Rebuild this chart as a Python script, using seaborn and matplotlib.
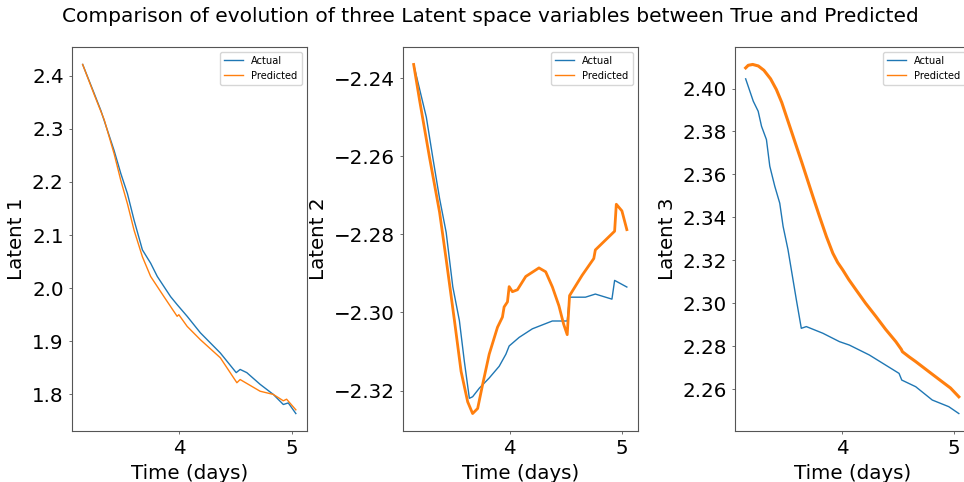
import matplotlib
matplotlib.use("Agg")
import matplotlib.pyplot as plt
import seaborn as sns
import pandas as pd

# ---- Latent 1 ----
l1_actual_t = [3.141, 3.244, 3.303, 3.420, 3.479, 3.538, 3.597, 3.671, 3.744, 3.803,
               3.921, 3.979, 4.068, 4.185, 4.362, 4.503, 4.538, 4.597, 4.715, 4.832,
               4.921, 4.965, 5.032]
l1_actual_v = [2.421, 2.366, 2.334, 2.259, 2.216, 2.178, 2.128, 2.072, 2.047, 2.022,
               1.984, 1.969, 1.947, 1.916, 1.878, 1.841, 1.847, 1.841, 1.819, 1.800,
               1.781, 1.784, 1.764]
l1_pred_t = [3.141, 3.244, 3.332, 3.420, 3.479, 3.538, 3.597, 3.671, 3.744, 3.862,
             3.979, 3.994, 4.068, 4.185, 4.362, 4.509, 4.538, 4.715, 4.832, 4.921,
             4.950, 5.032]
l1_pred_v = [2.421, 2.364, 2.317, 2.253, 2.203, 2.159, 2.109, 2.059, 2.022, 1.984,
             1.947, 1.950, 1.928, 1.903, 1.869, 1.822, 1.828, 1.806, 1.800, 1.788,
             1.791, 1.771]

# ---- Latent 2 ----
l2_actual_t = [3.142, 3.255, 3.313, 3.373, 3.432, 3.491, 3.550, 3.594, 3.639, 3.668,
               3.728, 3.816, 3.905, 3.965, 3.994, 4.083, 4.201, 4.379, 4.512, 4.533,
               4.675, 4.763, 4.911, 4.935, 5.044]
l2_actual_v = [-2.2365, -2.2500, -2.2604, -2.2708, -2.2795, -2.2934, -2.3021, -2.3125,
               -2.3220, -2.3216, -2.3194, -2.3168, -2.3138, -2.3107, -2.3086, -2.3064,
               -2.3042, -2.3022, -2.3022, -2.2961, -2.2961, -2.2953, -2.2966, -2.2918,
               -2.2935]
l2_pred_t = [3.142, 3.195, 3.284, 3.373, 3.432, 3.506, 3.565, 3.624, 3.668, 3.713,
             3.757, 3.816, 3.890, 3.934, 3.949, 3.979, 3.994, 4.023, 4.068, 4.142,
             4.260, 4.320, 4.380, 4.438, 4.480, 4.512, 4.533, 4.645, 4.749, 4.763,
             4.935, 4.950, 5.000, 5.044]
l2_pred_v = [-2.2365, -2.2457, -2.2604, -2.2743, -2.2864, -2.3021, -2.3151, -2.3229,
             -2.3259, -2.3246, -2.3185, -2.3107, -2.3038, -2.3012, -2.2986, -2.2973,
             -2.2934, -2.2947, -2.2942, -2.2908, -2.2886, -2.2896, -2.2935, -2.2983,
             -2.3030, -2.3057, -2.2957, -2.2905, -2.2862, -2.2840, -2.2792, -2.2723,
             -2.2740, -2.2788]

# ---- Latent 3 ----
l3_actual_t = [3.137, 3.205, 3.249, 3.279, 3.323, 3.353, 3.398, 3.442, 3.472, 3.516,
               3.591, 3.635, 3.680, 3.828, 3.976, 4.065, 4.243, 4.510, 4.534, 4.659,
               4.807, 4.955, 5.045]
l3_actual_v = [2.4045, 2.3941, 2.3894, 2.3824, 2.3762, 2.3638, 2.3544, 2.3466, 2.3358,
               2.3249, 2.3015, 2.2883, 2.2891, 2.2860, 2.2821, 2.2805, 2.2759, 2.2673,
               2.2642, 2.2611, 2.2549, 2.2518, 2.2486]
l3_pred_t = [3.137, 3.160, 3.200, 3.250, 3.300, 3.360, 3.412, 3.460, 3.501, 3.550,
             3.591, 3.640, 3.680, 3.740, 3.798, 3.860, 3.917, 3.960, 4.006, 4.060,
             4.125, 4.210, 4.303, 4.390, 4.481, 4.530, 4.540, 4.600, 4.659, 4.777,
             4.896, 4.970, 5.045]
l3_pred_v = [2.4096, 2.4108, 2.4112, 2.4105, 2.4085, 2.4045, 2.3995, 2.3935, 2.3871,
             2.3795, 2.3731, 2.3655, 2.3591, 2.3495, 2.3404, 2.3310, 2.3233, 2.3190,
             2.3155, 2.3110, 2.3062, 2.3000, 2.2938, 2.2878, 2.2821, 2.2785, 2.2774,
             2.2750, 2.2728, 2.2681, 2.2634, 2.2605, 2.2564]

panel_labels = ["Latent 1", "Latent 2", "Latent 3"]
x_ticks = [4, 5]
title = "Comparison of evolution of three Latent space variables between True and Predicted"

panels = [
    (l1_actual_t, l1_actual_v, l1_pred_t, l1_pred_v, 1.0),
    (l2_actual_t, l2_actual_v, l2_pred_t, l2_pred_v, 2.0),
    (l3_actual_t, l3_actual_v, l3_pred_t, l3_pred_v, 2.2),
]

plt.rcParams["font.family"] = ["DejaVu Sans"]
fig = plt.figure(figsize=(9.64, 4.82), dpi=100)

W, H = 964.0, 482.0
lefts = [72, 403, 735]
ax_w, ax_top, ax_bot = 234.5, 47, 431

for i, (at, av, pt, pv, plw) in enumerate(panels):
    ax = fig.add_axes([lefts[i] / W, 1 - ax_bot / H, ax_w / W, (ax_bot - ax_top) / H])
    df_a = pd.DataFrame({"t": at, "v": av})
    df_p = pd.DataFrame({"t": pt, "v": pv})
    sns.lineplot(data=df_a, x="t", y="v", ax=ax, color="#1f77b4", lw=1.0,
                 label="Actual", sort=False, estimator=None)
    sns.lineplot(data=df_p, x="t", y="v", ax=ax, color="#ff7f0e", lw=plw,
                 label="Predicted", sort=False, estimator=None)
    ax.set_xticks(x_ticks)
    ax.set_xlabel("Time (days)", fontsize=14.3)
    ax.set_ylabel(panel_labels[i], fontsize=14.3)
    ax.tick_params(labelsize=14.3, length=2.5, width=0.6, color="#555555")
    for s in ax.spines.values():
        s.set_color("#555555")
        s.set_linewidth(0.8)
    leg = ax.legend(loc="upper right", fontsize=7.15)
    for h in leg.get_lines():
        h.set_linewidth(1.0)

fig.text(490.4 / W, 1 - 16.5 / H, title, ha="center", va="center", fontsize=14.5)

fig.savefig("out.png", dpi=100)
